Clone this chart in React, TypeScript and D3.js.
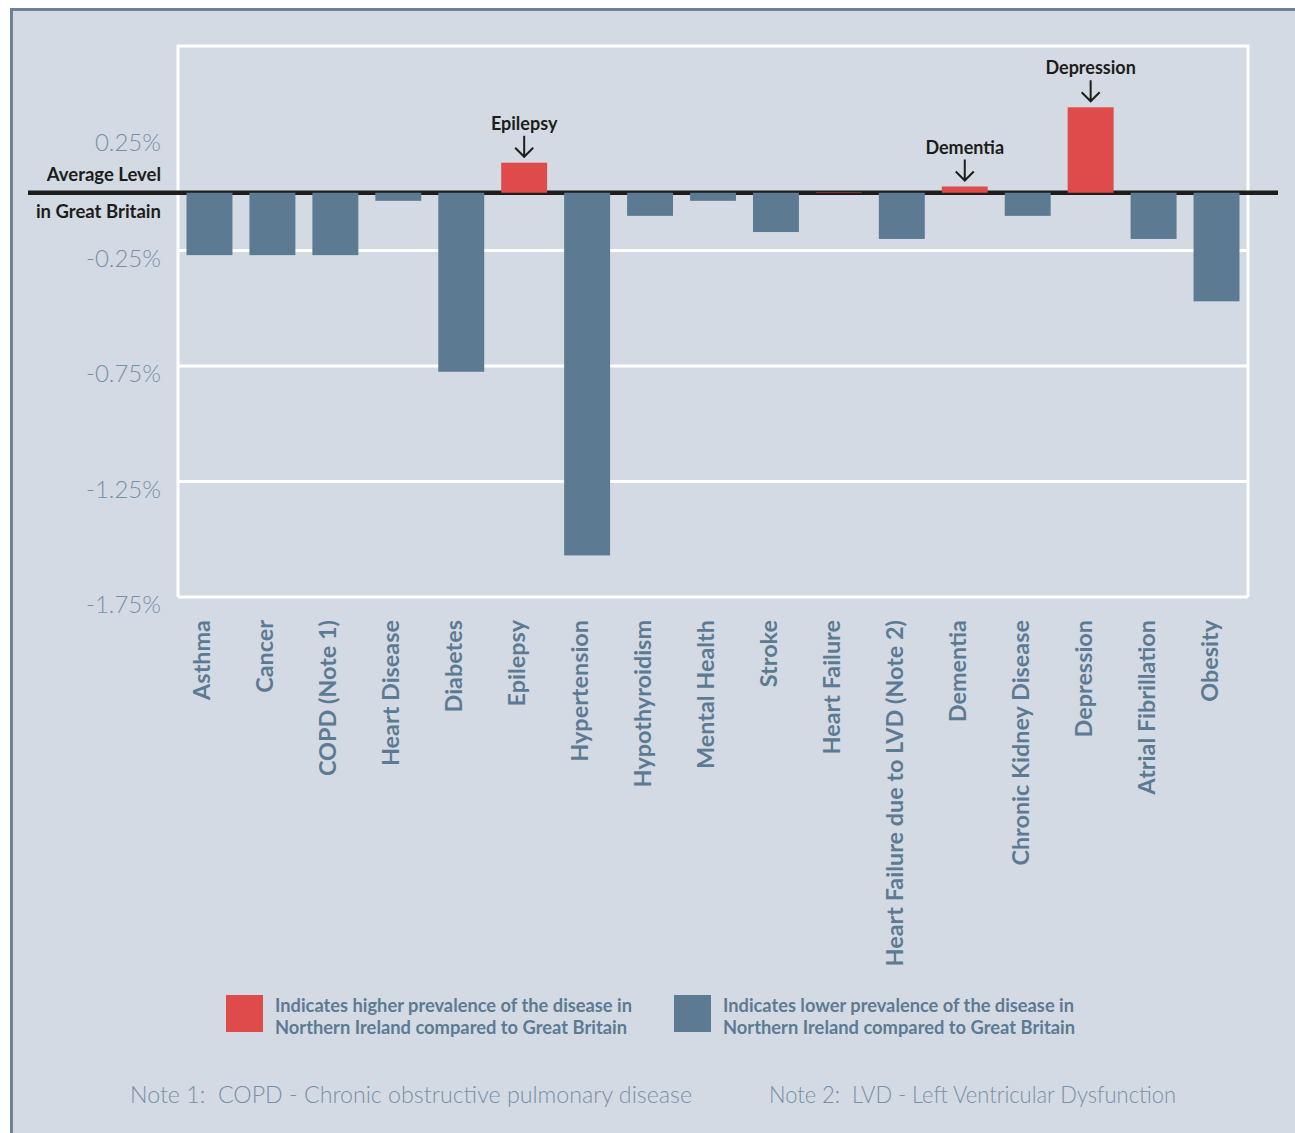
import React, { useEffect, useRef } from 'react';
import * as d3 from 'd3';

// categories and differences vs Great Britain average (percentage points)
const categories = [
    'Asthma', 'Cancer', 'COPD (Note 1)', 'Heart Disease', 'Diabetes', 'Epilepsy',
    'Hypertension', 'Hypothyroidism', 'Mental Health', 'Stroke', 'Heart Failure',
    'Heart Failure due to LVD (Note 2)', 'Dementia', 'Chronic Kidney Disease',
    'Depression', 'Atrial Fibrillation', 'Obesity',
];
const values = [
    -0.27, -0.27, -0.27, -0.035, -0.775, 0.13,
    -1.57, -0.1, -0.035, -0.17, 0.002,
    -0.2, 0.027, -0.1,
    0.37, -0.2, -0.47,
];
const annotated = ['Epilepsy', 'Dementia', 'Depression'];
const tickValues = [0.25, -0.25, -0.75, -1.25, -1.75];
const legendItems = [
    { key: 'higher', lines: ['Indicates higher prevalence of the disease in', 'Northern Ireland compared to Great Britain'] },
    { key: 'lower', lines: ['Indicates lower prevalence of the disease in', 'Northern Ireland compared to Great Britain'] },
];
const notes = [
    'Note 1:  COPD - Chronic obstructive pulmonary disease',
    'Note 2:  LVD - Left Ventricular Dysfunction',
];

const BG = '#d3dae3';
const BLUE = '#5d7a93';
const RED = '#df4b4b';
const TICK = '#7890a6';
const INK = '#1d1d1b';
const FONT = 'Lato, "Open Sans", sans-serif';

const W = 1295;
const H = 1133;

const PrevalenceChart: React.FC = () => {
    const ref = useRef<SVGSVGElement>(null);

    useEffect(() => {
        if (!ref.current) return;
        const svg = d3.select(ref.current);
        svg.selectAll('*').remove();

        // panel with border on left and top
        svg.append('rect').attr('x', 10).attr('y', 8).attr('width', W - 10).attr('height', H - 8).attr('fill', BG);
        svg.append('line').attr('x1', 11.5).attr('x2', 11.5).attr('y1', 8).attr('y2', H)
            .attr('stroke', '#6b8399').attr('stroke-width', 3);
        svg.append('line').attr('x1', 10).attr('x2', W).attr('y1', 9.5).attr('y2', 9.5)
            .attr('stroke', '#6b8399').attr('stroke-width', 3);

        const plot = { left: 178, right: 1248, top: 46 };

        const x = d3.scaleBand<string>()
            .domain(categories)
            .range([plot.left, plot.right])
            .paddingInner(0.27)
            .paddingOuter(0.135);

        const y = d3.scaleLinear()
            .domain([-1.75, 0.25])
            .range([597, 135]);

        // white frame + gridlines
        const grid = svg.append('g').attr('stroke', '#ffffff').attr('stroke-width', 3).attr('fill', 'none');
        grid.append('path')
            .attr('d', `M${plot.left},${y(-1.75)}V${plot.top}H${plot.right}V${y(-1.75)}`);
        grid.selectAll('line.grid')
            .data(tickValues.filter(t => t < 0))
            .enter()
            .append('line')
            .attr('class', 'grid')
            .attr('x1', plot.left)
            .attr('x2', plot.right)
            .attr('y1', d => y(d))
            .attr('y2', d => y(d));

        // y tick labels
        svg.selectAll('text.ytick')
            .data(tickValues)
            .enter()
            .append('text')
            .attr('class', 'ytick')
            .attr('x', 161)
            .attr('y', d => y(d) + 16)
            .attr('text-anchor', 'end')
            .attr('font-family', FONT)
            .attr('font-weight', 300)
            .attr('font-size', '24px')
            .attr('fill', TICK)
            .text(d => `${d.toFixed(2)}%`);

        // baseline label
        svg.append('text')
            .attr('x', 161).attr('y', y(0) - 12)
            .attr('text-anchor', 'end')
            .attr('font-family', FONT).attr('font-weight', 700).attr('font-size', '18.5px')
            .attr('fill', INK)
            .text('Average Level');
        svg.append('text')
            .attr('x', 161).attr('y', y(0) + 25)
            .attr('text-anchor', 'end')
            .attr('font-family', FONT).attr('font-weight', 700).attr('font-size', '18.5px')
            .attr('fill', INK)
            .text('in Great Britain');

        // zero line
        svg.append('line')
            .attr('x1', 28).attr('x2', 1278)
            .attr('y1', y(0)).attr('y2', y(0))
            .attr('stroke', INK).attr('stroke-width', 4.5);

        // bars
        svg.selectAll('rect.bar')
            .data(values)
            .enter()
            .append('rect')
            .attr('class', 'bar')
            .attr('x', (_, i) => x(categories[i]) as number)
            .attr('width', x.bandwidth())
            .attr('y', d => d >= 0 ? y(d) : y(0))
            .attr('height', d => Math.abs(y(d) - y(0)))
            .attr('fill', d => d >= 0 ? RED : BLUE);

        // annotations for highlighted bars
        annotated.forEach(name => {
            const i = categories.indexOf(name);
            const cx = (x(name) as number) + x.bandwidth() / 2;
            const top = y(values[i]);
            const g = svg.append('g');
            g.append('text')
                .attr('x', cx).attr('y', top - 33)
                .attr('text-anchor', 'middle')
                .attr('font-family', FONT).attr('font-weight', 700).attr('font-size', '18px')
                .attr('fill', INK)
                .text(name);
            g.append('path')
                .attr('d', `M${cx},${top - 27}V${top - 6}M${cx - 9},${top - 15}L${cx},${top - 6}L${cx + 9},${top - 15}`)
                .attr('fill', 'none')
                .attr('stroke', INK)
                .attr('stroke-width', 2);
        });

        // x category labels, rotated
        svg.selectAll('text.xlabel')
            .data(categories)
            .enter()
            .append('text')
            .attr('class', 'xlabel')
            .attr('transform', d => `translate(${(x(d) as number) + x.bandwidth() / 2 + 1},620) rotate(-90)`)
            .attr('text-anchor', 'end')
            .attr('font-family', FONT)
            .attr('font-weight', 700)
            .attr('font-size', '23.4px')
            .attr('fill', BLUE)
            .text(d => d);

        // legend
        const legendX = [226, 674];
        legendItems.forEach((item, i) => {
            const g = svg.append('g').attr('transform', `translate(${legendX[i]},995)`);
            g.append('rect')
                .attr('width', 37).attr('height', 37)
                .attr('fill', item.key === 'higher' ? RED : BLUE);
            item.lines.forEach((line, j) => {
                g.append('text')
                    .attr('x', 49).attr('y', 17 + j * 22)
                    .attr('font-family', FONT).attr('font-weight', 700).attr('font-size', '18px')
                    .attr('fill', BLUE)
                    .attr('textLength', j === 0 ? (i === 0 ? 357 : 351) : 352)
                    .attr('lengthAdjust', 'spacingAndGlyphs')
                    .text(line);
            });
        });

        // notes
        const noteX = [130, 769];
        const noteLen = [562, 407];
        notes.forEach((n, i) => {
            svg.append('text')
                .attr('x', noteX[i]).attr('y', 1103)
                .attr('font-family', FONT).attr('font-weight', 300).attr('font-size', '23px')
                .attr('fill', TICK)
                .attr('textLength', noteLen[i])
                .attr('lengthAdjust', 'spacingAndGlyphs')
                .style('white-space', 'pre')
                .text(n);
        });
    }, []);

    return <svg ref={ref} width={W} height={H} style={{ display: 'block' }} />;
};

export default function App() {
    return (
        <div style={{ position: 'absolute', left: 0, top: 0, background: '#ffffff' }}>
            <PrevalenceChart />
        </div>
    );
}
